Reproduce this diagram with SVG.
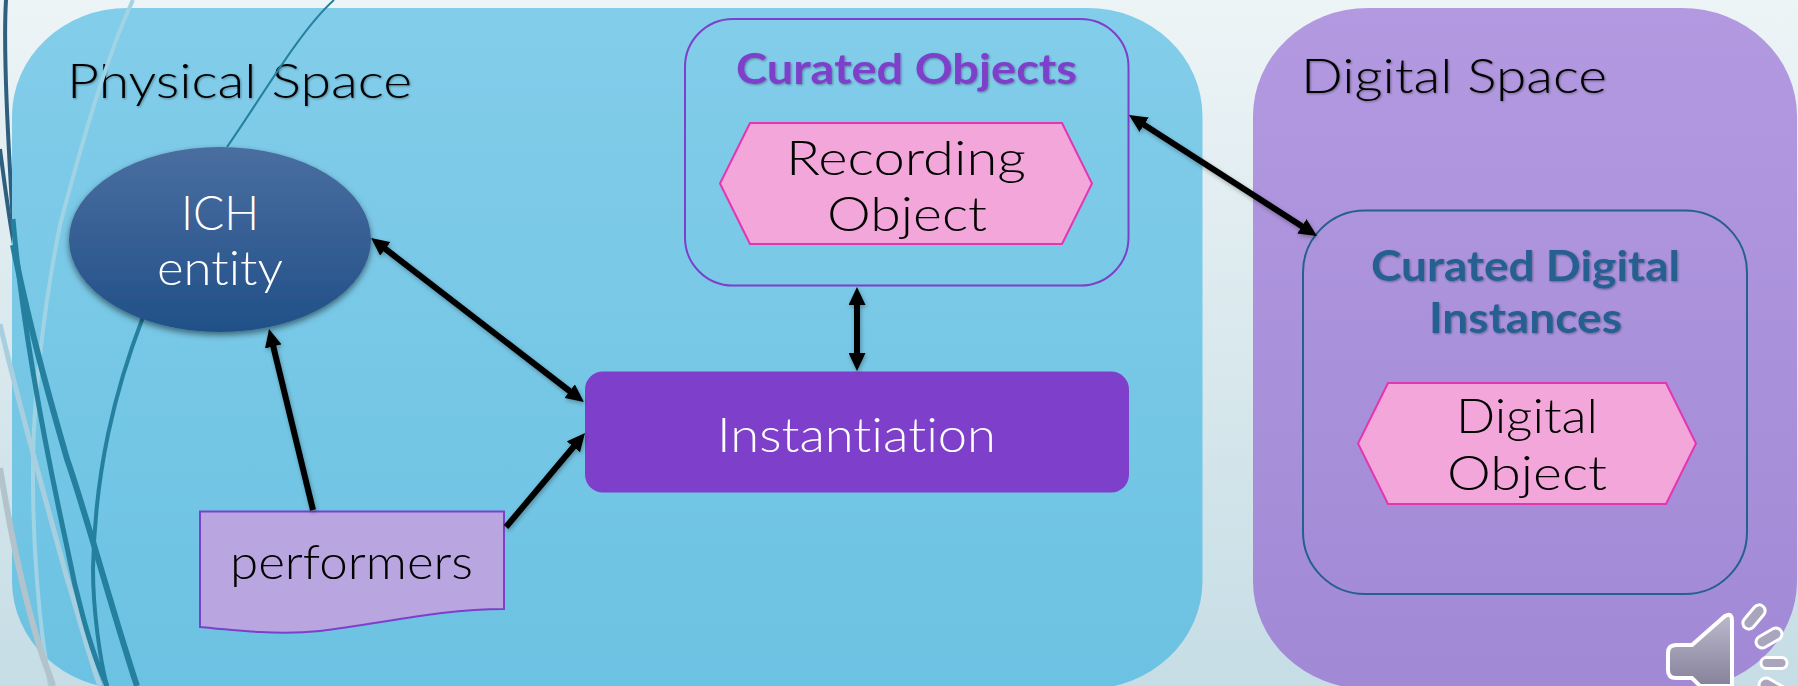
<svg xmlns="http://www.w3.org/2000/svg" width="1798" height="686" viewBox="0 0 1798 686">
<style>
text{font-family:"Lato","Liberation Sans",sans-serif;font-variant-ligatures:none}
.t{font-size:48px;font-weight:300;fill:#000}
.w{font-size:48px;font-weight:300;fill:#fff}
.b{font-size:42px;font-weight:700}
.c{fill:none;stroke:#000;stroke-width:6;marker-start:url(#a);marker-end:url(#a)}
.e{fill:none;stroke:#000;stroke-width:6;marker-end:url(#a)}
.s{fill:none;stroke:#25809f}
.box{fill:none;stroke-width:2}
.hex{fill:#f2a6da;stroke:#e535b0;stroke-width:2}
.ray{fill:#a9a5bd;stroke:#fff;stroke-width:3}
</style>
<defs>
<linearGradient id="bg" x1="0" y1="0" x2="0" y2="1"><stop offset="0" stop-color="#edf4f6"/><stop offset="1" stop-color="#c6dde5"/></linearGradient>
<linearGradient id="p" x1="0" y1="0" x2="0" y2="1"><stop offset="0" stop-color="#82cdea"/><stop offset="1" stop-color="#6cc2e2"/></linearGradient>
<linearGradient id="d" x1="0" y1="0" x2="0" y2="1"><stop offset="0" stop-color="#b399e0"/><stop offset="1" stop-color="#a189d6"/></linearGradient>
<linearGradient id="el" x1="0" y1="0" x2="0" y2="1"><stop offset="0" stop-color="#4a6ea0"/><stop offset="1" stop-color="#215088"/></linearGradient>
<linearGradient id="sp" x1="0" y1="0" x2="0" y2="1"><stop offset="0" stop-color="#bcb8cc"/><stop offset="1" stop-color="#86829a"/></linearGradient>
<marker id="a" markerUnits="userSpaceOnUse" markerWidth="18" markerHeight="17" refX="8" refY="8.5" orient="auto-start-reverse"><path d="M0 0L18 8.5L0 17z" fill="#000"/></marker>
<filter id="sh" x="-10%" y="-10%" width="120%" height="125%"><feDropShadow dx="0" dy="3" stdDeviation="3" flood-color="#000" flood-opacity=".5"/></filter>
<filter id="ts" x="-5%" y="-10%" width="110%" height="130%"><feDropShadow dx="1" dy="1" stdDeviation="1" flood-color="#000" flood-opacity=".35"/></filter>
<filter id="cs" x="-5%" y="-5%" width="110%" height="110%"><feDropShadow dx="1" dy="2" stdDeviation="2" flood-color="#000" flood-opacity=".3"/></filter>
</defs>
<rect width="1798" height="686" fill="url(#bg)"/>
<g id="swooshes-back">
<path d="M6 0C3 50 8 140 14 240" fill="none" stroke="#2f5f7e" stroke-width="4"/>
<path d="M0 149C4 180 9 220 15 250" fill="none" stroke="#2f5f7e" stroke-width="4"/>
</g>
<g id="physical-space">
<rect x="12" y="8" width="1190.500" height="681" rx="115" ry="108" fill="url(#p)"/>
<text class="t" x="67" y="98" textLength="345" lengthAdjust="spacingAndGlyphs" filter="url(#ts)">Physical Space</text>
</g>
<g id="digital-space">
<rect x="1253" y="8" width="544" height="681" rx="115" ry="108" fill="url(#d)"/>
<text class="t" x="1301" y="93" textLength="306" lengthAdjust="spacingAndGlyphs" filter="url(#ts)">Digital Space</text>
</g>
<g id="swooshes-front">
<path d="M133 0C105 60 80 150 60 225C45 300 32 400 33 481C33 540 38 620 50 686" fill="none" stroke="#a0d3e4" stroke-width="4"/>
<path d="M0 324C15 390 40 480 67 578C80 620 90 660 100 686" fill="none" stroke="#a8cfdf" stroke-width="5"/>
<path d="M0 468C10 530 25 600 40 648C45 665 50 675 53 686" fill="none" stroke="#b2c3cb" stroke-width="6"/>
<path class="s" stroke-width="2" d="M334 0C300 30 260 100 227 147"/>
<path class="s" stroke-width="4" d="M143 317C115 390 95 470 93 569C93 610 100 660 107 686"/>
<path class="s" stroke-width="5" d="M13 219C20 300 35 400 67 547C75 590 90 650 107 686"/>
<path class="s" stroke-width="6" d="M13 245C30 330 50 400 67 459C85 510 115 620 137 686"/>
</g>
<g id="ich-entity">
<ellipse cx="220" cy="239.500" rx="151" ry="92.500" fill="url(#el)" filter="url(#sh)"/>
<text class="w" x="181" y="230" textLength="78" lengthAdjust="spacingAndGlyphs">ICH</text>
<text class="w" x="157" y="285" textLength="126" lengthAdjust="spacingAndGlyphs">entity</text>
</g>
<g id="curated-objects">
<rect class="box" x="685" y="19" width="443.500" height="266.500" rx="48" stroke="#7e3fca"/>
<text class="b" x="736" y="84" fill="#7e3fca" textLength="341" lengthAdjust="spacingAndGlyphs" filter="url(#ts)">Curated Objects</text>
</g>
<g id="recording-object">
<path class="hex" d="M750 123H1062L1092 183.500L1062 244H750L720 183.500z"/>
<text class="t" x="786" y="175" textLength="240" lengthAdjust="spacingAndGlyphs">Recording</text>
<text class="t" x="827" y="231" textLength="160" lengthAdjust="spacingAndGlyphs">Object</text>
</g>
<g id="instantiation">
<rect x="585" y="371.500" width="544" height="121" rx="18" fill="#7e3fca"/>
<text class="w" x="717" y="452" textLength="279" lengthAdjust="spacingAndGlyphs">Instantiation</text>
</g>
<g id="performers">
<path d="M200 511.500H504V609C440 609 380 624 320 631C280 635 240 631 200 627z" fill="#b9a5df" stroke="#7e3fca" stroke-width="2"/>
<text class="t" x="230" y="579" textLength="243" lengthAdjust="spacingAndGlyphs">performers</text>
</g>
<g id="curated-digital-instances">
<rect class="box" x="1303" y="210.500" width="444" height="383.500" rx="62" stroke="#265f92"/>
<text class="b" x="1371" y="281" fill="#265f92" textLength="309" lengthAdjust="spacingAndGlyphs" filter="url(#ts)">Curated Digital</text>
<text class="b" x="1429" y="333" fill="#265f92" textLength="193" lengthAdjust="spacingAndGlyphs" filter="url(#ts)">Instances</text>
</g>
<g id="digital-object">
<path class="hex" d="M1388 383H1666L1696 443.500L1666 504H1388L1358 443.500z"/>
<text class="t" x="1456" y="433" textLength="142" lengthAdjust="spacingAndGlyphs">Digital</text>
<text class="t" x="1447" y="490" textLength="160" lengthAdjust="spacingAndGlyphs">Object</text>
</g>
<g id="connectors" filter="url(#cs)">
<path class="c" d="M379 244L576 396"/>
<path class="c" d="M857 297V361"/>
<path class="c" d="M1137.400 120.400L1308.600 230.600"/>
<path class="e" d="M313 510L271.400 338.700"/>
<path class="e" d="M506 527L578.600 440.700"/>
</g>
<g id="speaker">
<path d="M1676 645H1692L1725 616Q1732 612 1732 621V686H1700L1692 678H1676Q1668 678 1668 670V653Q1668 645 1676 645z" fill="url(#sp)" stroke="#fff" stroke-width="4"/>
<rect class="ray" x="1740" y="611" width="28" height="12" rx="6" transform="rotate(-50 1754 617)"/>
<rect class="ray" x="1755" y="632" width="28" height="12" rx="6" transform="rotate(-30 1769 638)"/>
<rect class="ray" x="1761" y="657.500" width="26" height="11" rx="5.500"/>
<rect class="ray" x="1758" y="682" width="30" height="14" rx="7" transform="rotate(30 1773 689)"/>
</g>
</svg>
